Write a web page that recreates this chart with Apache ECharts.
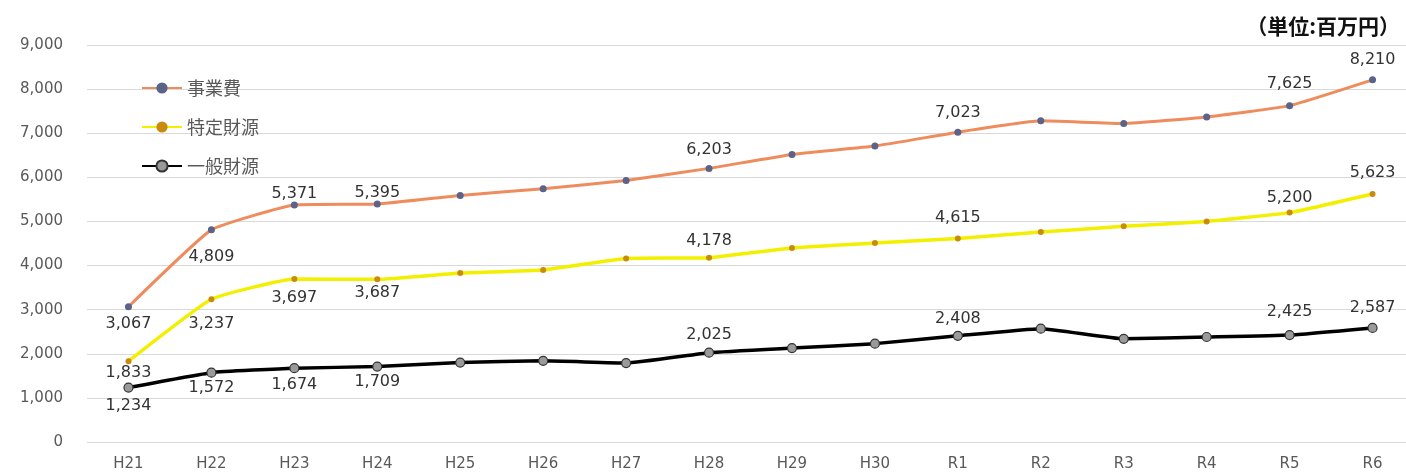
<!DOCTYPE html>
<html>
<head>
<meta charset="utf-8">
<script src="https://cdn.jsdelivr.net/npm/echarts@6/dist/echarts.min.js"></script>
<style>html,body{margin:0;padding:0;background:#fff;overflow:hidden;}#c{width:1414px;height:472px;}</style>
</head>
<body>
<div id="c"></div>
<script>
const categories = ['H21','H22','H23','H24','H25','H26','H27','H28','H29','H30','R1','R2','R3','R4','R5','R6'];
const seriesNames = ['事業費','特定財源','一般財源'];
const jigyouhi = [3067,4809,5371,5395,5590,5740,5930,6203,6520,6710,7023,7280,7220,7370,7625,8210];
const tokuteiZaigen = [1833,3237,3697,3687,3830,3900,4160,4178,4400,4510,4615,4760,4890,5000,5200,5623];
const ippanZaigen = [1234,1572,1674,1709,1800,1840,1790,2025,2130,2230,2408,2570,2340,2380,2425,2587];
const labeledIdx = [0,1,2,3,7,10,14,15];
const unitText = '（単位:百万円）';

// label styling (gap from marker), per series, for the labelled points
const labelGap = [
  [6, 15, 0, 0, 7, 8, 10, 9],
  [1, 14, 8, 2, 6, 10, 4, 10],
  [5, 2, 4, 2, 5, 4, 10, 7]
];
const labelBelow = [
  [true, true, false, false, false, false, false, false],
  [true, true, true, true, false, false, false, false],
  [true, true, true, true, false, false, false, false]
];

const FONT = 'DejaVu Sans';
function mk(si, data, lineColor, width, symColor, symSize, symBorder) {
  return {
    name: seriesNames[si], type: 'line', data: data.map((v, i) => {
      const k = labeledIdx.indexOf(i);
      if (k < 0) return { value: v, label: { show: false } };
      return { value: v, label: { show: true, position: labelBelow[si][k] ? 'bottom' : 'top', distance: labelGap[si][k] } };
    }),
    smooth: 0.12,
    symbol: 'circle', symbolSize: symSize,
    itemStyle: { color: symColor, borderColor: symBorder || symColor, borderWidth: symBorder ? 1.2 : 0 },
    lineStyle: { color: lineColor, width: width },
    label: { color: '#333', fontFamily: FONT, fontSize: 16, formatter: p => p.value.toLocaleString('en-US') },
    emphasis: { disabled: true },
    z: 3
  };
}

const chart = echarts.init(document.getElementById('c'), null, { renderer: 'canvas' });
chart.setOption({
  animation: false,
  backgroundColor: '#fff',
  textStyle: { fontFamily: FONT },
  graphic: [{
    type: 'text', right: 14, top: 16,
    style: { text: unitText, fontFamily: 'Noto Sans CJK JP', fontWeight: 'bold', fontSize: 21, fill: '#111' }
  }],
  legend: {
    orient: 'vertical', left: 136, top: 74, itemGap: 21, itemWidth: 40, itemHeight: 14,
    textStyle: { color: '#595959', fontSize: 18, fontFamily: 'Noto Sans CJK JP' },
    data: seriesNames
  },
  grid: { left: 87, top: 45, height: 399, width: 1327 },
  xAxis: {
    type: 'category', data: categories, boundaryGap: true,
    axisLine: { show: false }, axisTick: { show: false },
    axisLabel: { color: '#595959', fontSize: 15, fontFamily: FONT, margin: 15 }
  },
  yAxis: {
    type: 'value', min: 0, max: 9000, interval: 1000,
    axisLine: { show: false }, axisTick: { show: false },
    axisLabel: { color: '#595959', fontSize: 15, fontFamily: FONT, margin: 24,
      formatter: v => v.toLocaleString('en-US') },
    splitLine: { lineStyle: { color: '#d9d9d9', width: 1.2 } }
  },
  series: [
    mk(0, jigyouhi, '#EE8C5E', 3, '#5B6488', 7),
    mk(1, tokuteiZaigen, '#F2F000', 3.5, '#C98A10', 6),
    mk(2, ippanZaigen, '#000000', 3.5, '#9a9a9a', 9, '#333')
  ]
});
</script>
</body>
</html>
